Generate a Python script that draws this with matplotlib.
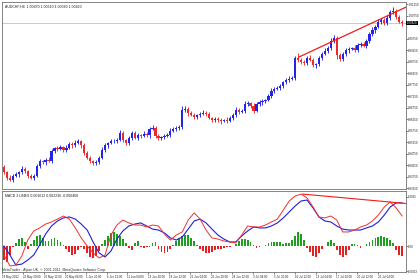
import matplotlib
matplotlib.use('Agg')
import matplotlib.pyplot as plt
import matplotlib.transforms as mtransforms
import numpy as np

# AUDCHF H4 candles (closes; open = previous close)
open0 = 0.9418
closes = [0.9395, 0.9369, 0.9360, 0.9377, 0.9386, 0.9395, 0.9408, 0.9399, 0.9377, 0.9369,
          0.9377, 0.9421, 0.9442, 0.9438, 0.9447, 0.9442, 0.9486, 0.9499, 0.9495, 0.9503,
          0.9490, 0.9499, 0.9516, 0.9512, 0.9521, 0.9529, 0.9512, 0.9477, 0.9455, 0.9442,
          0.9434, 0.9438, 0.9455, 0.9490, 0.9512, 0.9521, 0.9529, 0.9529, 0.9534, 0.9564,
          0.9534, 0.9521, 0.9542, 0.9564, 0.9542, 0.9555, 0.9551, 0.9560, 0.9555, 0.9582,
          0.9586, 0.9551, 0.9542, 0.9547, 0.9551, 0.9555, 0.9573, 0.9582, 0.9586, 0.9590,
          0.9664, 0.9669, 0.9651, 0.9642, 0.9634, 0.9642, 0.9647, 0.9651, 0.9647, 0.9629,
          0.9621, 0.9625, 0.9621, 0.9616, 0.9621, 0.9616, 0.9629, 0.9642, 0.9664, 0.9655,
          0.9660, 0.9690, 0.9695, 0.9682, 0.9660, 0.9690, 0.9699, 0.9703, 0.9708, 0.9725,
          0.9747, 0.9755, 0.9760, 0.9769, 0.9786, 0.9795, 0.9799, 0.9803, 0.9890, 0.9882,
          0.9873, 0.9868, 0.9890, 0.9882, 0.9860, 0.9864, 0.9890, 0.9908, 0.9921, 0.9934,
          0.9964, 0.9977, 0.9903, 0.9886, 0.9908, 0.9925, 0.9929, 0.9934, 0.9925, 0.9947,
          0.9951, 0.9942, 0.9964, 0.9995, 1.0012, 1.0025, 1.0047, 1.0055, 1.0042, 1.0064,
          1.0090, 1.0095, 1.0069, 1.0047, 1.0042]
# wick lengths in pips
wick_up = [8, 6, 11, 7, 9, 5, 12, 7, 6, 8, 11, 7, 9, 6, 8, 12, 7, 5, 9, 8,
           6, 11, 7, 8, 13, 9, 6, 7, 11, 8, 5, 9, 7, 12, 8, 6, 11, 7, 9, 15,
           8, 6, 9, 7, 11, 8, 6, 12, 7, 9, 13, 8, 7, 6, 9, 8, 11, 7, 8, 9,
           18, 11, 8, 7, 9, 6, 8, 11, 7, 8, 6, 9, 7, 8, 5, 11, 7, 9, 12, 8,
           7, 13, 8, 6, 11, 9, 7, 8, 6, 9, 11, 8, 7, 9, 6, 8, 11, 7, 8, 20,
           9, 8, 11, 12, 7, 6, 9, 8, 11, 7, 12, 15, 8, 11, 7, 9, 8, 6, 11, 7,
           9, 8, 11, 9, 12, 8, 11, 7, 9, 13, 11, 16, 9, 8, 7]
wick_dn = [7, 9, 6, 8, 5, 11, 7, 8, 9, 6, 8, 5, 9, 7, 11, 6, 8, 9, 7, 5,
           9, 7, 6, 11, 8, 5, 12, 8, 6, 7, 11, 8, 9, 6, 7, 12, 5, 8, 7, 6,
           9, 7, 11, 8, 6, 9, 7, 5, 8, 11, 6, 8, 9, 7, 11, 5, 8, 6, 9, 7,
           8, 7, 11, 6, 8, 9, 7, 5, 8, 6, 9, 7, 8, 11, 6, 8, 5, 9, 7, 8,
           6, 11, 7, 8, 9, 5, 8, 12, 7, 6, 8, 9, 6, 7, 11, 8, 7, 6, 9, 7,
           11, 7, 8, 6, 9, 12, 7, 8, 6, 9, 7, 9, 15, 8, 8, 7, 11, 6, 8, 9,
           8, 6, 9, 7, 8, 11, 6, 9, 7, 8, 7, 9, 8, 6, 11]

# MACD 3 LINES window
macd_hist = [-0.00073, -0.00083, -0.00047, -0.00005, 0.00016, 0.00036, 0.00042, 0.00021, -0.00016, 0.00010,
             0.00031, 0.00052, 0.00057, 0.00042, 0.00026, 0.00026, 0.00036, 0.00042, 0.00031, 0.00021,
             0.00005, -0.00016, -0.00031, -0.00047, -0.00042, -0.00021, -0.00005, -0.00016, -0.00036, -0.00057,
             -0.00062, -0.00052, -0.00026, 0.00010, 0.00031, 0.00052, 0.00068, 0.00073, 0.00062, 0.00052,
             0.00036, 0.00016, -0.00010, -0.00021, 0.00016, 0.00026, -0.00005, -0.00010, -0.00005, -0.00005,
             0.00016, 0.00021, -0.00016, -0.00031, -0.00036, -0.00031, -0.00016, 0.00005, 0.00026, 0.00042,
             0.00052, 0.00057, 0.00057, 0.00042, 0.00026, 0.00005, -0.00016, -0.00026, -0.00036, -0.00036,
             -0.00031, -0.00021, -0.00016, -0.00016, -0.00010, -0.00005, -0.00005, -0.00002, 0.00010, 0.00026,
             0.00036, 0.00036, 0.00031, 0.00021, 0.00005, -0.00010, -0.00005, 0.00002, 0.00005, 0.00016,
             0.00021, 0.00021, 0.00021, 0.00021, 0.00010, 0.00016, 0.00016, 0.00031, 0.00052, 0.00073,
             0.00062, 0.00031, -0.00010, -0.00031, -0.00052, -0.00057, -0.00036, -0.00016, 0.00002, 0.00021,
             0.00031, 0.00016, -0.00021, -0.00047, -0.00057, -0.00047, -0.00021, 0.00010, 0.00010, 0.00005,
             -0.00010, 0.00002, 0.00010, 0.00021, 0.00031, 0.00042, 0.00047, 0.00052, 0.00047, 0.00042,
             0.00031, 0.00016, -0.00021, -0.00047, -0.00052]
# red and blue lines, one value every second bar
macd_red = [-0.00047, -0.00104, -0.00099, -0.00052, 0.00031, 0.00078, 0.00094, 0.00114, 0.00125, 0.00140,
            0.00156, 0.00140, 0.00094, 0.00042, 0.00000, -0.00036, -0.00062, -0.00047, 0.00057, 0.00109,
            0.00135, 0.00120, 0.00109, 0.00109, 0.00099, 0.00109, 0.00104, 0.00062, 0.00031, 0.00057,
            0.00073, 0.00135, 0.00172, 0.00140, 0.00083, 0.00042, 0.00036, 0.00026, 0.00021, 0.00016,
            0.00057, 0.00104, 0.00099, 0.00099, 0.00109, 0.00125, 0.00140, 0.00187, 0.00234, 0.00260,
            0.00270, 0.00250, 0.00203, 0.00151, 0.00146, 0.00156, 0.00135, 0.00073, 0.00073, 0.00083,
            0.00099, 0.00109, 0.00130, 0.00161, 0.00203, 0.00229, 0.00198, 0.00156]
macd_blue = [0.00000, -0.00047, -0.00099, -0.00094, -0.00073, -0.00047, 0.00005, 0.00062, 0.00104, 0.00130,
             0.00146, 0.00151, 0.00140, 0.00114, 0.00083, 0.00021, -0.00036, -0.00057, -0.00026, 0.00036,
             0.00078, 0.00104, 0.00114, 0.00120, 0.00104, 0.00088, 0.00083, 0.00068, 0.00042, 0.00031,
             0.00047, 0.00088, 0.00130, 0.00140, 0.00120, 0.00088, 0.00057, 0.00036, 0.00021, 0.00021,
             0.00052, 0.00078, 0.00099, 0.00094, 0.00094, 0.00104, 0.00120, 0.00146, 0.00177, 0.00208,
             0.00234, 0.00239, 0.00198, 0.00151, 0.00130, 0.00125, 0.00104, 0.00088, 0.00083, 0.00083,
             0.00083, 0.00094, 0.00104, 0.00125, 0.00161, 0.00203, 0.00224, 0.00224]

# drawn trend lines (bar index, value)
price_trend_x = [99.3, 135.4]
price_trend_y = [0.98946, 1.01120]
macd_trend_x = [100.5, 135.4]
macd_trend_y = [0.00270, 0.00221]

price_ticks = [1.01250, 1.00750, 1.00250, 0.99750, 0.99250, 0.98750, 0.98250, 0.97750, 0.97250,
               0.96750, 0.96250, 0.95750, 0.95250, 0.94750, 0.94250, 0.93750, 0.93250]
time_labels = ['18 May 2012', '22 May 20:00', '25 May 12:00', '30 May 04:00', '1 Jun 20:00',
               '6 Jun 12:00', '11 Jun 04:00', '13 Jun 20:00', '18 Jun 12:00', '21 Jun 04:00',
               '25 Jun 20:00', '28 Jun 12:00', '3 Jul 04:00', '5 Jul 20:00', '10 Jul 12:00',
               '13 Jul 04:00', '17 Jul 20:00', '20 Jul 12:00', '25 Jul 04:00']

BULL, BEAR = '#2424e8', '#ec2a2a'
HGREEN, HRED = '#1e9e1e', '#e42020'
FS = 2.5
FSR = 2.05
plt.rcParams['font.family'] = ['Liberation Sans', 'DejaVu Sans']

W, H = 420, 280
fig = plt.figure(figsize=(4.2, 2.8), dpi=100)
fig.patch.set_facecolor('white')
axp = fig.add_axes([2 / W, 1 - 189 / H, 404 / W, 187 / H])
axm = fig.add_axes([2 / W, 1 - 272 / H, 404 / W, 81 / H])

n = len(closes)
x = np.arange(n)
c = np.array(closes)
o = np.r_[open0, c[:-1]]
hi = np.maximum(o, c) + np.array(wick_up) * 1e-4
lo = np.minimum(o, c) - np.array(wick_dn) * 1e-4
col = np.where(c >= o, BULL, BEAR)

axp.vlines(x, lo, hi, colors=col, lw=0.65)
axp.bar(x, np.maximum(np.abs(c - o), 0.0001), bottom=np.minimum(o, c),
        width=0.75, color=col, lw=0)
axp.axhline(c[-1], color='#b4b4b4', lw=0.5, zorder=0)
axp.plot(price_trend_x, price_trend_y, color='#f01c1c', lw=0.9)

xl = (-0.67, 135.3)
axp.set_xlim(*xl)
axp.set_ylim(0.93207, 1.01337)
axp.set_xticks([])
axp.yaxis.tick_right()
ticks_shown = [t for t in price_ticks if abs(t - c[-1]) > 0.003]
axp.set_yticks(ticks_shown)
axp.set_yticklabels(['%.5f' % t for t in ticks_shown])
axp.tick_params(axis='y', length=1.2, width=0.4, pad=0.5, labelsize=FSR, colors='#202020')
trans = mtransforms.blended_transform_factory(axp.transAxes, axp.transData)
axp.text(1.002, c[-1], '%.5f' % c[-1], transform=trans, fontsize=FSR, color='white',
         va='center', ha='left', clip_on=False,
         bbox=dict(boxstyle='square,pad=0.12', fc='black', ec='black', lw=0))
axp.text(0.007, 0.985, 'AUDCHF,H4  1.00470 1.00510 1.00380 1.00420', transform=axp.transAxes,
         fontsize=FS, va='top', ha='left', color='#202020')

# indicator window
hist = np.array(macd_hist)
axm.bar(x, hist, width=0.6, color=np.where(hist >= 0, HGREEN, HRED), lw=0)
xi = np.arange(0, n, 2)
axm.plot(xi, macd_blue, color='#2020d8', lw=0.8)
axm.plot(xi, macd_red, color='#f03030', lw=0.7)
axm.plot(macd_trend_x, macd_trend_y, color='#f01c1c', lw=0.8)
axm.set_xlim(*xl)
axm.set_ylim(-0.001352, 0.00286)
axm.yaxis.tick_right()
axm.set_yticks([0.002548, 0.0, -0.001301])
axm.set_yticklabels(['0.0025', '0.00', '-0.0013'])
axm.tick_params(axis='y', length=1.2, width=0.4, pad=0.5, labelsize=FSR, colors='#202020')
tpos = np.arange(len(time_labels)) * 7.035 - 0.67
axm.set_xticks(tpos)
axm.set_xticklabels(time_labels)
axm.tick_params(axis='x', length=1.5, width=0.4, pad=0.6, labelsize=FSR, colors='#202020')
for lbl in axm.get_xticklabels():
    lbl.set_ha('left')
axm.text(0.007, 0.96, 'MACD 3 LINES 0.001612 0.002236 -0.000468', transform=axm.transAxes,
         fontsize=FS, va='top', ha='left', color='#202020')
axm.text(0.0, 0.005, 'MetaTrader - Alpari UK, \u00a9 2001-2011, MetaQuotes Software Corp.',
         transform=axm.transAxes, fontsize=FS, va='bottom', ha='left', color='#303030')

for ax in (axp, axm):
    for s in ax.spines.values():
        s.set_linewidth(0.6)
        s.set_color('#707070')
    ax.set_facecolor('white')

fig.savefig('out.png', dpi=100)
